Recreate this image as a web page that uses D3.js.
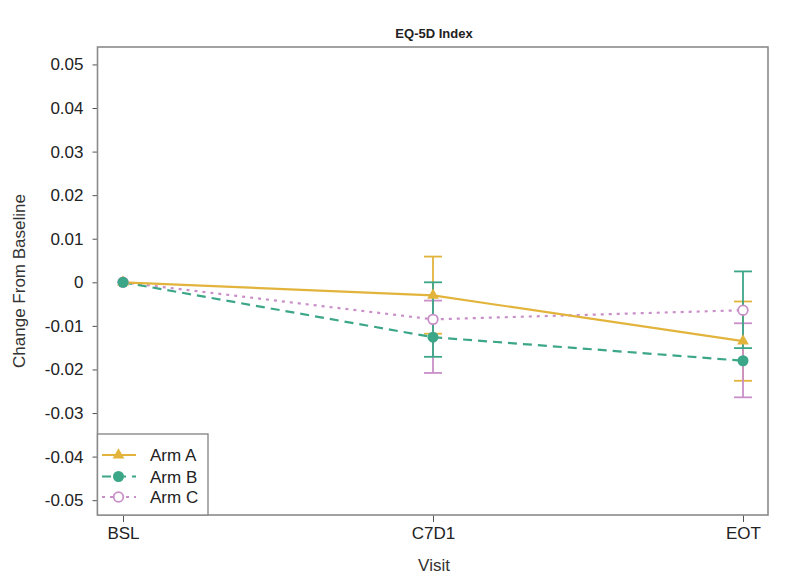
<!DOCTYPE html>
<html><head><meta charset="utf-8">
<script src="https://cdn.jsdelivr.net/npm/d3@7"></script>
<style>body{margin:0;background:#fff}svg{display:block}text{font-family:"Liberation Sans",Arial,sans-serif}</style>
</head><body><svg id="c" width="786" height="582"></svg>
<script>
const visits = ["BSL","C7D1","EOT"];
const yTicks = [0.05,0.04,0.03,0.02,0.01,0,-0.01,-0.02,-0.03,-0.04,-0.05];
const yTickLabels = ["0.05","0.04","0.03","0.02","0.01","0","-0.01","-0.02","-0.03","-0.04","-0.05"];
const armNames = ["Arm A","Arm B","Arm C"];
const armAMean = [0, -0.0030, -0.0135];
const armALow  = [null, -0.0118, -0.0226];
const armAHigh = [null, 0.0059, -0.0044];
const armBMean = [0, -0.0126, -0.0180];
const armBLow  = [null, -0.0208, -0.0264];
const armBHigh = [null, -0.0042, -0.0094];
const armCMean = [0, -0.0085, -0.0064];
const armCLow  = [null, -0.0171, -0.0151];
const armCHigh = [null, 0.0000, 0.0025];

const colA = "#e2b43c", colB = "#3ca688", colC = "#c98fc8";
const arms = [
  {name:armNames[0], mean:armAMean, lo:armALow, hi:armAHigh, col:colA, barCol:colA, dash:null, shape:"tri"},
  {name:armNames[1], mean:armBMean, lo:armBLow, hi:armBHigh, col:colB, barCol:colC, dash:"9,6", shape:"dot"},
  {name:armNames[2], mean:armCMean, lo:armCLow, hi:armCHigh, col:colC, barCol:colB, dash:"3,5", shape:"ring"}
];

const svg = d3.select("#c");
const box = {l:97.5, r:768, t:47, b:515};
const x = d3.scalePoint().domain(visits).range([123, 743]);
const y = d3.scaleLinear().domain([-0.0534, 0.054]).range([box.b, box.t]);

// title
svg.append("text").attr("x", 434).attr("y", 38).attr("text-anchor","middle")
  .attr("font-size", 13).attr("font-weight","bold").attr("fill","#222").text("EQ-5D Index");

// axes
const yAxis = d3.axisLeft(y).tickValues(yTicks).tickFormat((d,i)=>yTickLabels[i]).tickSize(5).tickPadding(9);
const gy = svg.append("g").attr("transform",`translate(${box.l},0)`).call(yAxis);
gy.select(".domain").remove();
gy.selectAll("line").attr("stroke","#555");
gy.selectAll("text").attr("font-size",17).attr("fill","#222").style("font-family","Liberation Sans, Arial");

const xAxis = d3.axisBottom(x).tickSize(7).tickPadding(5);
const gx = svg.append("g").attr("transform",`translate(0,${box.b})`).call(xAxis);
gx.select(".domain").remove();
gx.selectAll("line").attr("stroke","#555");
gx.selectAll("text").attr("font-size",17).attr("fill","#222").style("font-family","Liberation Sans, Arial");

svg.append("text").attr("x",434).attr("y",571).attr("text-anchor","middle").attr("font-size",17).attr("fill","#333").text("Visit");
svg.append("text").attr("transform","translate(25,281) rotate(-90)").attr("text-anchor","middle").attr("font-size",17).attr("fill","#333").text("Change From Baseline");

// plot box
svg.append("rect").attr("x",box.l).attr("y",box.t).attr("width",box.r-box.l).attr("height",box.b-box.t)
  .attr("fill","none").attr("stroke","#8a8a8a").attr("stroke-width",1.6);

// error bars
const capW = 9;
arms.forEach(a=>{
  const g = svg.append("g");
  visits.forEach((v,i)=>{
    if (a.lo[i]==null) return;
    const cx = x(v);
    g.append("line").attr("x1",cx).attr("x2",cx).attr("y1",y(a.lo[i])).attr("y2",y(a.hi[i])).attr("stroke",a.barCol).attr("stroke-width",1.8);
    [a.lo[i],a.hi[i]].forEach(val=>{
      g.append("line").attr("x1",cx-capW).attr("x2",cx+capW).attr("y1",y(val)).attr("y2",y(val)).attr("stroke",a.barCol).attr("stroke-width",1.8);
    });
  });
});

// lines
const line = d3.line().x((d,i)=>x(visits[i])).y(d=>y(d));
arms.slice().reverse().forEach(a=>{
  svg.append("path").datum(a.mean).attr("d",line).attr("fill","none").attr("stroke",a.col)
    .attr("stroke-width",2.2).attr("stroke-dasharray",a.dash);
});

function marker(g, a, cx, cy){
  if (a.shape==="tri") {
    g.append("path").attr("d", d3.symbol().type(d3.symbolTriangle).size(60)()).attr("transform",`translate(${cx},${cy})`).attr("fill",a.col);
  } else if (a.shape==="dot") {
    g.append("circle").attr("cx",cx).attr("cy",cy).attr("r",5.5).attr("fill",a.col);
  } else {
    g.append("circle").attr("cx",cx).attr("cy",cy).attr("r",4.8).attr("fill","#fff").attr("stroke",a.col).attr("stroke-width",1.8);
  }
}
const mg = svg.append("g");
[arms[2],arms[0],arms[1]].forEach(a=>{
  visits.forEach((v,i)=>marker(mg,a,x(v),y(a.mean[i])));
});

// legend
const lg = svg.append("g");
lg.append("rect").attr("x",box.l).attr("y",434).attr("width",110.5).attr("height",box.b-434)
  .attr("fill","#fff").attr("stroke","#8a8a8a").attr("stroke-width",1.4);
const rows = [455, 476.5, 497];
arms.forEach((a,i)=>{
  const ry = rows[i];
  lg.append("line").attr("x1",102).attr("x2",136).attr("y1",ry).attr("y2",ry).attr("stroke",a.col).attr("stroke-width",2.2).attr("stroke-dasharray",a.dash);
  marker(lg,a,118.5,ry);
  lg.append("text").attr("x",150).attr("y",ry+6).attr("font-size",17).attr("fill","#222").text(a.name);
});
</script></body></html>
